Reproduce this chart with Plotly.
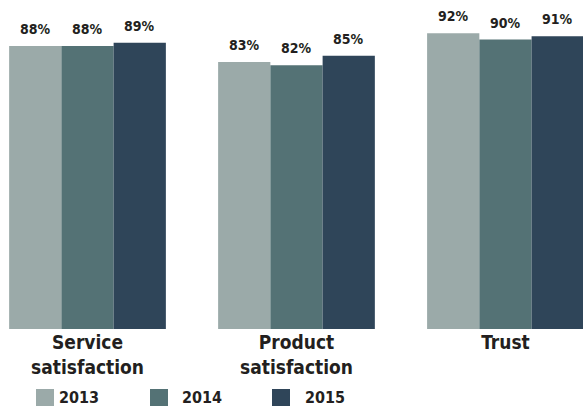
import plotly.graph_objects as go

categories = ["Service<br>satisfaction", "Product<br>satisfaction", "Trust"]
years = ["2013", "2014", "2015"]
values_2013 = [88, 83, 92]
values_2014 = [88, 82, 90]
values_2015 = [89, 85, 91]
colors = ["#9baaa9", "#547275", "#2f4559"]
series = [values_2013, values_2014, values_2015]

FONT = "DejaVu Sans Condensed, Roboto, sans-serif"
TXT = "#231f20"

fig = go.Figure()
for yr, vals, col in zip(years, series, colors):
    fig.add_trace(go.Bar(x=categories, y=vals, name=yr, marker=dict(color=col, line=dict(width=0)),
                         showlegend=False))

annotations = []
offsets = [-0.25, 0.0, 0.25]
for si, vals in enumerate(series):
    for ci, v in enumerate(vals):
        annotations.append(dict(x=ci + offsets[si], y=v, xref="x", yref="y", text=f"<b>{v}%</b>",
                                showarrow=False, yanchor="middle", yshift=17,
                                font=dict(family=FONT, size=14, color=TXT)))

# manual legend
legend_swatch_x = [36, 150, 272]
legend_text_x = [57, 180, 303]
W, H = 583, 406
for i, yr in enumerate(years):
    fig.add_shape(type="rect", xref="paper", yref="paper",
                  x0=legend_swatch_x[i] / W, x1=(legend_swatch_x[i] + 18) / W,
                  y0=(329 - 389) / 329, y1=(329 - 407) / 329,
                  fillcolor=colors[i], line=dict(width=0))
    annotations.append(dict(x=legend_text_x[i] / W, y=(329 - 397.5) / 329, xref="paper", yref="paper",
                            text=f"<b>{yr}</b>", showarrow=False, xanchor="left", yanchor="middle",
                            font=dict(family=FONT, size=16, color=TXT)))

fig.update_layout(
    width=W, height=H,
    margin=dict(l=0, r=0, t=0, b=77),
    barmode="group", bargap=0.25, bargroupgap=0,
    plot_bgcolor="white", paper_bgcolor="white",
    annotations=annotations,
    font=dict(family=FONT, color=TXT),
)
fig.update_xaxes(range=[-0.4187, 2.371], showgrid=False, showline=False, ticks="",
                 tickfont=dict(family=FONT, size=19, color=TXT, weight="bold"), fixedrange=True)
fig.update_yaxes(range=[0, 102.3], visible=False, fixedrange=True)

fig.write_html("out.html", config={"displayModeBar": False},
               post_script="document.body.style.margin='0';document.body.style.overflow='hidden';")
